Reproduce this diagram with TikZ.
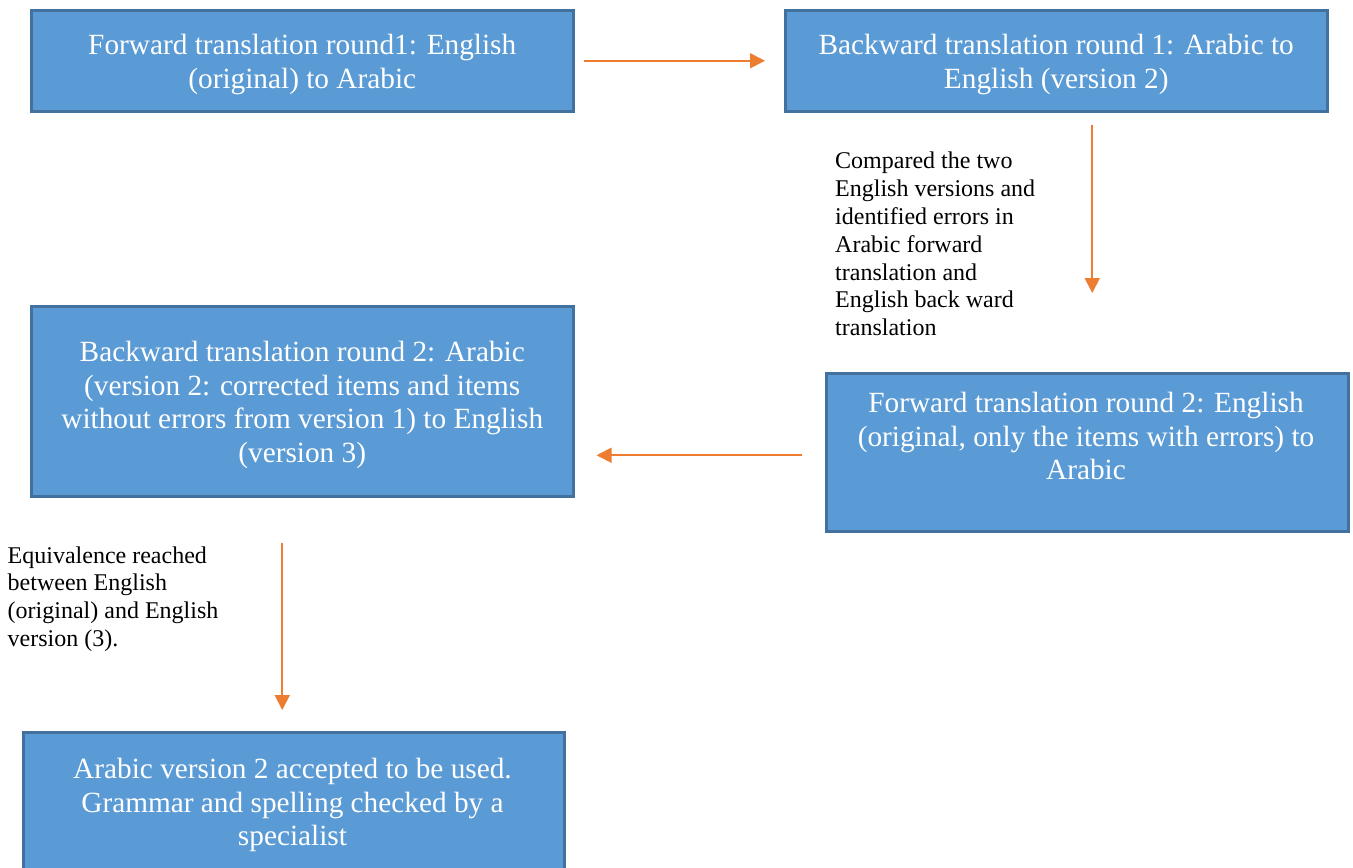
\documentclass[tikz,border=0pt]{standalone}
\usepackage{fontspec}
\setmainfont{Liberation Serif}
\usetikzlibrary{arrows.meta}
\definecolor{boxfill}{HTML}{5B9BD5}
\definecolor{boxline}{HTML}{41719C}
\definecolor{arrcol}{HTML}{ED7D31}
\begin{document}
\begin{tikzpicture}[x=1pt,y=-1pt,
  box/.style={draw=boxline, fill=boxfill, line width=2.5pt, anchor=north west,
    inner sep=0pt},
  boxtext/.style={inner sep=0pt, text=white, align=center,
    font=\fontsize{29.3}{33.5}\selectfont},
  note/.style={inner sep=0pt, anchor=west, align=left,
    font=\fontsize{24}{27.8}\selectfont},
  arr/.style={draw=arrcol, line width=1.8pt,
    -{Triangle[length=15pt,width=15pt]}}]
\useasboundingbox (0,0) rectangle (1353,868);

\node[box, minimum width=542pt, minimum height=101pt] (b1) at (30,9) {};
\node[boxtext] (b1t) at ([yshift=-3.5pt]b1.center)
  {Forward translation round1: English\\(original) to Arabic};
\node[box, minimum width=542pt, minimum height=101pt] (b2) at (784,9) {};
\node[boxtext] (b2t) at ([yshift=-3.5pt]b2.center)
  {Backward translation round 1: Arabic to\\English (version 2)};
\node[box, minimum width=542pt, minimum height=190pt] (b3) at (30,305) {};
\node[boxtext] (b3t) at ([yshift=-3.5pt]b3.center)
  {Backward translation round 2: Arabic\\(version 2: corrected items and items\\without errors from version 1) to English\\(version 3)};
\node[box, minimum width=522pt, minimum height=158pt] (b4) at (825,372) {};
\node[boxtext] (b4t) at (1086,436)
  {Forward translation round 2: English\\(original, only the items with errors) to\\Arabic};
\node[box, minimum width=541pt, minimum height=142pt] (b5) at (22,731) {};
\node[boxtext] (b5t) at (292.5,805)
  {Arabic version 2 accepted to be used.\\Grammar and spelling checked by a\\specialist};

\node[note] (n1) at (835,244)
  {Compared the two\\English versions and\\identified errors in\\Arabic forward\\translation and\\English back ward\\translation};
\node[note] (n2) at (7.5,599)
  {Equivalence reached\\between English\\(original) and English\\version (3).};

\draw[arr] ([xshift=9pt]b1.east) -- ([xshift=-19pt]b2.west);
\draw[arr] ([xshift=36pt,yshift=-12pt]b2.south) -- ([xshift=5pt,yshift=79pt]b4.north);
\draw[arr] ([xshift=-23pt,yshift=-3pt]b4.west) -- ([xshift=22pt,yshift=-54pt]b3.east);
\draw[arr] ([xshift=-20pt,yshift=-45pt]b3.south) -- ([xshift=-11.5pt,yshift=21pt]b5.north);
\end{tikzpicture}
\end{document}
